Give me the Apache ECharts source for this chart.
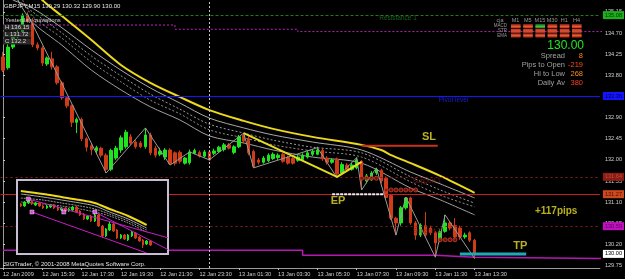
<!DOCTYPE html>
<html><head><meta charset="utf-8">
<script src="https://cdn.jsdelivr.net/npm/echarts/dist/echarts.min.js"></script>
<style>html,body{margin:0;padding:0;background:#000}#c{width:625px;height:279px}</style>
</head><body><div id="c"></div>
<script>
// ---------- DATA ----------
const tickLabels = ['12 Jan 2009','12 Jan 15:30','12 Jan 17:30','12 Jan 19:30','12 Jan 21:30','12 Jan 23:30','13 Jan 01:30','13 Jan 03:30','13 Jan 05:30','13 Jan 07:30','13 Jan 09:30','13 Jan 11:30','13 Jan 13:30'];
const priceTicks = [129.75,130.20,130.65,131.10,131.55,132.00,132.45,132.90,133.35,133.80,134.25,134.70,135.15];
// [open, close, low, high]  GBPJPY M15
const ohlc = [
[134.19,133.91,133.87,134.30],[133.96,134.40,133.92,134.47],[134.40,134.66,134.36,134.70],[134.62,134.72,134.58,134.76],
[134.70,135.08,134.66,135.12],[135.08,134.95,134.92,135.14],[134.90,134.45,134.40,135.02],[134.45,134.38,134.33,134.50],
[134.38,134.06,134.00,134.42],[134.04,134.17,134.00,134.20],[134.15,133.98,133.92,134.30],[133.98,133.64,133.60,134.02],
[133.64,133.32,133.28,133.68],[133.32,133.15,133.10,133.36],[133.15,132.80,132.70,133.18],[132.80,132.86,132.57,132.90],
[132.86,132.45,132.40,132.90],[132.45,132.27,132.18,132.48],[132.30,132.22,132.10,132.34],[132.20,132.26,132.12,132.30],
[132.25,132.10,132.05,132.28],[132.10,131.80,131.72,132.14],[131.80,132.20,131.76,132.24],[132.04,132.25,132.00,132.30],
[132.21,132.47,132.15,132.52],[132.28,132.59,132.24,132.64],[132.49,132.36,132.32,132.55],[132.38,132.28,132.24,132.42],
[132.36,132.28,132.25,132.40],[132.28,132.53,132.24,132.68],[132.53,132.15,132.10,132.58],[132.25,132.10,132.05,132.30],
[132.12,132.18,132.08,132.26],[132.06,132.21,132.00,132.25],[132.21,131.92,131.89,132.25],[132.15,131.93,131.88,132.18],
[132.16,131.97,131.92,132.20],[131.93,132.04,131.90,132.06],[131.94,132.17,131.90,132.22],[132.14,132.20,132.12,132.24],
[132.16,132.08,132.05,132.20],[132.08,132.17,132.05,132.21],[132.17,132.00,131.98,132.20],[132.14,132.19,132.10,132.24],
[132.18,132.27,132.15,132.30],[132.22,132.32,132.18,132.36],[132.32,132.25,132.22,132.36],[132.16,132.28,132.12,132.31],
[132.28,132.49,132.25,132.53],[132.52,132.40,132.35,132.57],[132.45,132.15,132.10,132.50],[132.18,131.86,131.83,132.22],
[132.00,131.95,131.90,132.04],[131.95,132.04,131.92,132.08],[131.98,132.10,131.95,132.14],[132.03,132.12,132.00,132.16],
[132.05,132.10,132.00,132.14],[132.12,131.97,131.94,132.15],[132.05,131.93,131.90,132.09],[132.03,131.93,131.90,132.06],
[131.99,132.06,131.96,132.10],[132.01,132.10,131.98,132.14],[132.06,132.15,132.03,132.20],[132.12,132.18,132.08,132.23],
[132.12,132.21,132.10,132.28],[132.20,132.02,131.98,132.26],[132.04,131.95,131.90,132.08],[131.95,132.00,131.92,132.04],
[132.02,131.70,131.62,132.05],[131.72,131.90,131.68,131.95],[131.89,131.80,131.76,131.93],[131.80,131.89,131.77,131.94],
[131.83,132.00,131.80,132.05],[131.97,131.62,131.36,132.00],[131.55,131.66,131.50,131.70],[131.58,131.72,131.55,131.76],
[131.72,131.80,131.68,131.83],[131.78,131.55,131.50,131.81],[131.61,131.20,131.15,131.65],[131.24,130.76,130.72,131.27],
[130.76,130.66,130.40,130.79],[130.66,130.98,130.60,131.02],[130.98,131.19,130.94,131.21],[131.19,130.66,130.62,131.22],
[130.66,130.40,130.30,130.70],[130.40,130.61,130.36,130.65],[130.60,130.40,130.36,130.89],[130.55,130.45,130.40,130.60],
[130.45,130.23,129.93,130.48],[130.30,130.47,130.25,130.52],[130.48,130.66,130.45,130.83],[130.66,130.55,130.50,130.70],
[130.60,130.36,130.30,130.76],[130.55,130.36,130.30,130.60],[130.36,130.40,130.32,130.45],[130.45,130.29,130.25,130.48],
[130.29,130.00,129.90,130.32]
];
// moving averages [barIndex, price]
const yellowMA = [[7,135.55],[8,135.40],[12,135.06],[18,134.55],[24,134.02],[30,133.64],[36,133.34],[42,133.06],[49,132.83],[55,132.66],[63,132.49],[73,132.32],[77,132.21],[79,132.10],[83,131.93],[89,131.66],[96,131.30]];
const grayMA1 = [[2,135.40],[6,135.23],[12,134.81],[18,134.34],[24,133.91],[30,133.53],[36,133.21],[42,132.89],[49,132.68],[55,132.53],[63,132.38],[73,132.21],[83,131.74],[89,131.49],[96,131.19]];
const dotMA1  = [[3,135.40],[6,135.15],[12,134.70],[18,134.21],[24,133.79],[30,133.40],[36,133.08],[42,132.76],[49,132.57],[55,132.42],[63,132.27],[73,132.15],[83,131.64],[89,131.36],[96,131.08]];
const grayMA2 = [[4,135.40],[6,135.06],[12,134.59],[18,134.08],[24,133.66],[30,133.27],[36,132.98],[42,132.64],[49,132.47],[55,132.32],[63,132.19],[73,132.06],[83,131.53],[89,131.25],[96,131.00]];
const grayMA3 = [[3,135.40],[6,134.93],[12,134.44],[18,133.91],[24,133.49],[30,133.13],[36,132.85],[42,132.51],[49,132.36],[55,132.21],[63,132.06],[73,131.93],[83,131.40],[89,131.15],[96,130.83]];
const zigzag = [[5,135.10],[21,131.72],[29,132.68],[34,131.89],[38,132.17],[42,132.00],[49,132.57],[51,131.83],[64,132.26],[68,131.62],[72,132.05],[73,131.36],[76,131.83],[80,130.40],[82,131.21],[88,129.93],[90,130.83],[96,129.90]];
const wedge = [[49,132.57],[68,131.64],[73,131.96]];
const slLine = [[73,132.30],[88.5,132.30]];
const epLine = [[67,131.27],[77.5,131.27]];
const tpLine = [[93,130.00],[106.5,130.00]];
const chain1 = [[73,131.61],[74,131.61],[75,131.61],[76,131.61]];
const chain2 = [[78,131.36],[79,131.36],[80,131.36],[81,131.36],[82,131.36],[83,131.36],[84,131.36]];
const chain3 = [[89,130.30],[90,130.30],[91,130.30],[92,130.30]];
const topMagenta = [[0,134.87],[35,134.78],[60,134.73],[122,134.73]];
const botMagenta = [[0,130.08],[61,129.97],[88,129.93],[96,129.90],[122,129.90]];
const levelValues = [135.08,133.36,131.64,131.27,130.59,130.00];
const separatorBar = 42;
const textMarks = [['Resistance 1',76.6,135.02],['Pivot level',88.7,133.27],['Support 1',83.4,131.55],['Support 2',83.4,130.49]];
const tradeMarks = [['SL',86.7,132.49],['EP',68.2,131.12],['TP',105.3,130.17],['+117pips',112.6,130.91]];
// inset mini chart
const miniOhlc = [
[133.0,132.8,132.7,133.1],[132.8,133.2,132.7,133.3],[133.1,133.4,133.0,133.5],[133.3,133.0,132.9,133.4],[132.9,133.1,132.8,133.2],
[133.1,132.8,132.7,133.2],[132.8,132.6,132.5,132.9],[132.6,132.8,132.5,132.9],[132.7,132.9,132.6,133.0],[132.9,132.6,132.5,133.0],
[132.7,132.4,132.3,132.8],[132.4,132.6,132.3,132.7],[132.6,132.3,132.2,132.7],[132.3,132.5,132.2,132.6],[132.4,132.7,132.3,132.8],
[132.7,132.2,132.1,132.8],[132.3,131.9,131.8,132.4],[132.0,131.5,131.4,132.1],[131.5,131.8,131.4,131.9],[131.8,131.3,131.2,131.9],
[131.3,131.9,131.2,132.1],[131.9,130.8,130.7,132.0],[130.8,129.8,129.6,130.9],[129.8,130.5,129.7,130.6],[130.4,131.0,130.3,131.3],
[131.0,130.3,130.2,131.1],[130.4,129.6,129.5,130.5],[129.6,129.9,129.5,130.0],[129.9,129.5,129.4,130.0],[129.4,129.9,129.3,130.0],
[129.8,130.2,129.7,130.3],[130.1,129.6,129.5,130.2],[129.7,129.3,129.2,129.8],[129.4,128.9,128.6,129.5],[129.0,129.3,128.9,129.4],
[129.3,128.9,128.8,129.4]
];
const miniYellow = [[0,134.3],[6,134.0],[11,133.7],[16,133.4],[20,133.1],[24,132.5],[29,131.8],[34,130.9]];
const miniGray1 = [[0,134.0],[6,133.7],[11,133.4],[16,133.1],[20,132.8],[24,132.2],[29,131.5],[34,130.6]];
const miniGray2 = [[0,133.6],[6,133.4],[11,133.1],[16,132.8],[20,132.5],[24,132.0],[29,131.3],[34,130.4]];
const miniGray3 = [[0,133.2],[6,133.0],[11,132.8],[16,132.5],[20,132.2],[24,131.8],[29,131.1],[34,130.2]];
const miniMag1 = [[2,133.5],[40,129.6]];
const miniMag2 = [[3,132.2],[34,128.1]];
const miniMag3 = [[20,132.2],[40,128.4]];
const miniPivots = [[2,133.5],[3,132.2],[11.6,132.2],[20,132.2]];
// info panel
const tfCols = ['M1','M5','M15','M30','H1','H4'];
const tfRows = ['MACD','STR','EMA'];
const tfState = [[0,0,1,0,0,0],[0,0,0,0,0,0],[0,0,0,0,0,0]];
const panelRows = [['Spread','8'],['Pips to Open','-219'],['Hi to Low','268'],['Daily Av','380']];
const bidText = '130.00';
const headerText = 'GBPJPY,M15 130.29 130.32 129.90 130.00';
const yesterday = ['Yesterday quotations','H 136.15','L 131.72','C 132.2'];

// ---------- CHART ----------
const FONT = 'Liberation Sans';
const SLOTS = 122, BW = 4.94, GL = -2.71;
const cats = Array.from({length: SLOTS}, (_, i) => String(i));
const lineS = (data, color, width, type, extra) => Object.assign({
  type:'line', xAxisIndex:1, yAxisIndex:0, data, symbol:'none', smooth:false, silent:true, animation:false,
  lineStyle:{color, width, type: type||'solid'}, z:3
}, extra||{});
const levelStyles = [
  {c:'#1e7a1e', t:[3,2], box:'#1fae1f', tc:'#003300'},
  {c:'#1414ff', t:'solid', box:'#1414ff', tc:'#000050'},
  {c:'#8c1c14', t:[2,3], box:'#8c1c14', tc:'#c04a3a'},
  {c:'#c81e1e', t:'solid', box:'#cc4a1e', tc:'#5a0a00'},
  {c:'#8c1c14', t:[2,3], box:'#c010c0', tc:'#600060'},
  {c:'rgba(0,0,0,0)', t:'solid', box:'#ffffff', tc:'#000000'}
];
const chainStyle = {color:'#7a1410', borderColor:'#d2442a', borderWidth:1};

const graphics = [];
const addText = (x,y,text,size,color,align,weight) => graphics.push({type:'text', x, y, z:100, style:{text, fill:color, font:(weight||'normal')+' '+size+'px "'+FONT+'"', textAlign:align||'left', textVerticalAlign:'middle'}});
addText(4,6,headerText,6,'#e6e6e6');
addText(5,20,yesterday[0],6,'#d6d6d6');
yesterday.slice(1).forEach((t,i)=>{graphics.push({type:'rect', z:99, shape:{x:3,y:24.5+i*7,width:28,height:6}, style:{fill:'#2a2a2a'}}); addText(5,27.5+i*7,t,6,'#d8d8d8');});
addText(4,264,'SIGTrader, \u00a9 2001-2008 MetaQuotes Software Corp.',6,'#e8e8e8');
// timeframe matrix
addText(500,20,'cja',5.5,'#9a9a9a','center');
tfCols.forEach((c,k)=>addText(515.5+k*12.2,20,c,5.5,'#9a9a9a','center'));
tfRows.forEach((r,i)=>{
  addText(507,26.2+i*4.6,r,4.5,'#9a9a9a','right');
  tfCols.forEach((c,k)=>{
    const green = tfState[i][k]===1;
    graphics.push({type:'rect', z:99, shape:{x:511+k*12.2,y:24.3+i*4.6,width:9.6,height:3.9}, style:{fill: green?'#2e9a2e':'#c83c22'}});
    graphics.push({type:'rect', z:99, shape:{x:511+k*12.2,y:26+i*4.6,width:9.6,height:0.8}, style:{fill: green?'#56c256':'#e06448'}});
  });
});
addText(584,46,bidText,12,'#22e622','right');
const valColors = ['#ff8c1a','#ff4a1a','#ff8c1a','#ff3c1a'];
panelRows.forEach((r,i)=>{ addText(565,55.5+i*9.3,r[0],7.5,'#a0a0a0','right'); addText(583,55.5+i*9.3,r[1],7.5,valColors[i],'right'); });
// inset frame
graphics.push({type:'rect', z:40, shape:{x:17,y:180,width:151,height:74}, style:{fill:'#000', stroke:'#c8bcd2', lineWidth:2}});

const option = {
  backgroundColor:'#000', animation:false,
  textStyle:{fontFamily:FONT},
  grid:[
    {left:GL, top:0, width:SLOTS*BW, height:268, show:false},
    {left:19, top:182, width:148, height:71, show:false, z:50}
  ],
  xAxis:[
    {type:'category', gridIndex:0, data:cats, boundaryGap:true,
     axisLine:{lineStyle:{color:'#9a9a9a'}},
     axisTick:{show:true, alignWithLabel:true, length:2, interval:(i)=>i%8===0&&i<=96, lineStyle:{color:'#bbbbbb'}},
     axisLabel:{interval:(i)=>i%8===0&&i<=96, formatter:(v,i)=>(i%8===0&&i<=96)?tickLabels[i/8]:'', align:'left', color:'#d0d0d0', fontSize:5.6, margin:3, fontFamily:FONT},
     splitLine:{show:false}},
    {type:'value', gridIndex:0, min:-0.5, max:SLOTS-0.5, show:false},
    {type:'category', gridIndex:1, data:Array.from({length:40},(_,i)=>String(i)), show:false},
    {type:'value', gridIndex:1, min:-0.5, max:39.5, show:false}
  ],
  yAxis:[
    {type:'value', gridIndex:0, position:'right', offset:2, min:129.70, max:135.402, scale:true,
     axisLine:{show:true, lineStyle:{color:'#9a9a9a'}},
     axisTick:{show:true, length:2, customValues:priceTicks, lineStyle:{color:'#cccccc'}},
     axisLabel:{customValues:priceTicks, formatter:(v)=>v.toFixed(2), color:'#d0d0d0', fontSize:5.6, margin:3, fontFamily:FONT},
     splitLine:{show:false}},
    {type:'value', gridIndex:1, min:128.1, max:135.2, show:false}
  ],
  graphic:{elements:graphics},
  series:[
    {type:'line', xAxisIndex:1, yAxisIndex:0, data:[], silent:true,
     markLine:{silent:true, symbol:'none', animation:false,
       data:[
         ...levelValues.map((v,i)=>({yAxis:v, lineStyle:{color:levelStyles[i].c, type:levelStyles[i].t, width:1},
            label:{show:true, position:'end', distance:3, formatter:v.toFixed(2), backgroundColor:levelStyles[i].box, color:levelStyles[i].tc, fontSize:5.6, padding:[1,2,1,2], fontFamily:FONT}})),
         {xAxis:separatorBar, lineStyle:{color:'#c8c8c8', type:[2,2], width:1}, label:{show:false}}
       ]}, z:2},
    lineS(topMagenta,'#c020c0',1,[2,2],{step:'end'}),
    lineS(botMagenta,'#b418b4',1.5,'solid',{step:'end'}),
    lineS(grayMA3,'#a0a0a0',1,'solid',{smooth:0.3}),
    lineS(grayMA2,'#8c8c8c',1,[2,2],{smooth:0.3}),
    lineS(dotMA1,'#9a9a9a',1,[2,2],{smooth:0.3}),
    lineS(grayMA1,'#a8a8a8',1,'solid',{smooth:0.3}),
    lineS(yellowMA,'#ecd81c',2,'solid',{smooth:0.3}),
    {type:'candlestick', xAxisIndex:0, yAxisIndex:0, data:ohlc, barWidth:3, silent:true, z:4,
     itemStyle:{color:'#1ee61e', color0:'#d03c18', borderColor:'#1ee61e', borderColor0:'#d03c18', borderWidth:1}},
    lineS(zigzag,'#9a9a9a',1,'solid',{z:5}),
    lineS(wedge,'#e6dc1e',2,'solid',{z:5}),
    lineS(slLine,'#c8321a',2,'solid',{z:5}),
    lineS(epLine,'#e8e8f0',2,[3,1],{z:5}),
    lineS(tpLine,'#1eaab4',3,'solid',{z:5}),
    {type:'scatter', xAxisIndex:1, yAxisIndex:0, data:[...chain1,...chain2,...chain3], symbol:'circle', symbolSize:4, itemStyle:chainStyle, silent:true, z:6},
    {type:'scatter', xAxisIndex:1, yAxisIndex:0, silent:true, z:6, symbolSize:0,
     data:textMarks.map((t,i)=>({value:[t[1],t[2]], label:{show:true, position:'right', distance:0, formatter:t[0], fontSize:6.5, fontFamily:FONT,
        color:['#1e7a1e','#2020ff','#8c1c14','#8c1c14'][i]}}))},
    {type:'scatter', xAxisIndex:1, yAxisIndex:0, silent:true, z:7, symbolSize:0,
     data:tradeMarks.map((t)=>({value:[t[1],t[2]], label:{show:true, position:'inside', formatter:t[0], fontSize:t[0].length>2?10:11, fontWeight:'bold', fontFamily:FONT, color:'#e6dc28'}}))},
    {type:'candlestick', xAxisIndex:2, yAxisIndex:1, data:miniOhlc, barWidth:2, silent:true, z:60,
     itemStyle:{color:'#1ee61e', color0:'#d03c18', borderColor:'#1ee61e', borderColor0:'#d03c18', borderWidth:1}},
    {type:'line', xAxisIndex:3, yAxisIndex:1, data:miniGray3, symbol:'none', smooth:0.3, lineStyle:{color:'#8c8c8c', width:1, type:[2,1]}, z:59, silent:true},
    {type:'line', xAxisIndex:3, yAxisIndex:1, data:miniGray2, symbol:'none', smooth:0.3, lineStyle:{color:'#9a9a9a', width:1, type:[2,1]}, z:59, silent:true},
    {type:'line', xAxisIndex:3, yAxisIndex:1, data:miniGray1, symbol:'none', smooth:0.3, lineStyle:{color:'#a8a8a8', width:1}, z:59, silent:true},
    {type:'line', xAxisIndex:3, yAxisIndex:1, data:miniYellow, symbol:'none', smooth:0.3, lineStyle:{color:'#ecd81c', width:2}, z:59, silent:true},
    {type:'line', xAxisIndex:3, yAxisIndex:1, data:miniMag1, symbol:'none', lineStyle:{color:'#c81ec8', width:1}, z:61, silent:true},
    {type:'line', xAxisIndex:3, yAxisIndex:1, data:miniMag2, symbol:'none', lineStyle:{color:'#c81ec8', width:1}, z:61, silent:true},
    {type:'line', xAxisIndex:3, yAxisIndex:1, data:miniMag3, symbol:'none', lineStyle:{color:'#c81ec8', width:1}, z:61, silent:true},
    {type:'scatter', xAxisIndex:3, yAxisIndex:1, data:miniPivots, symbol:'rect', symbolSize:4, itemStyle:{color:'#ff60ff', borderColor:'#ffffff', borderWidth:0.5}, z:62, silent:true}
  ]
};
const chart = echarts.init(document.getElementById('c'), null, {renderer:'canvas'});
chart.setOption(option);
</script>
</body></html>
